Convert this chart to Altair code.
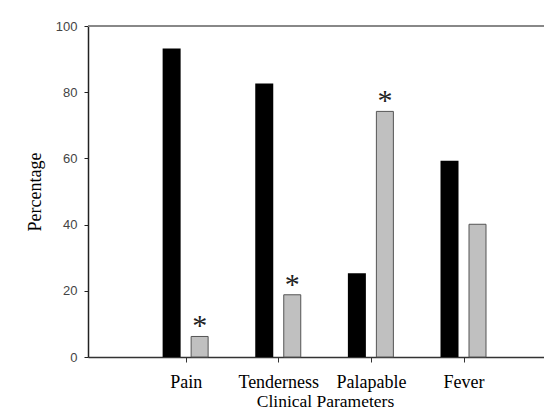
import altair as alt
import pandas as pd

categories = ["Pain", "Tenderness", "Palapable", "Fever"]
series_a = [93.2, 82.6, 25.3, 59.3]   # black bars
series_b = [6.2, 18.8, 74.2, 40.1]    # grey bars
significant = [True, True, True, False]
y_ticks = [0, 20, 40, 60, 80, 100]

df = pd.DataFrame({
    "cat": categories,
    "pos": list(range(1, len(categories) + 1)),
    "a": series_a,
    "b": series_b,
    "sig": significant,
})

label_expr = "[" + ",".join("'%s'" % c for c in categories) + "][datum.value - 1]"

xscale = alt.Scale(domain=[0, 4.815], nice=False, zero=False)
yscale = alt.Scale(domain=[0, 100], nice=False)

xaxis = alt.Axis(
    values=list(range(1, len(categories) + 1)), labelExpr=label_expr,
    title="Clinical Parameters", grid=False,
    domainColor="#333", domainWidth=1.5, tickColor="#333", tickSize=5,
    labelFont="Liberation Serif", labelFontSize=18, labelColor="black",
    labelBaseline="alphabetic", labelPadding=25,
    titleFont="Liberation Serif", titleFontSize=17.5, titleFontWeight="normal",
    titleColor="black", titleX=237, titleY=49, titleBaseline="alphabetic",
)
yaxis = alt.Axis(
    values=y_ticks, grid=False,
    domainColor="#222", domainWidth=1.5, tickColor="#222", tickSize=4,
    labelFont="Liberation Sans", labelFontSize=13, labelColor="#444", labelPadding=7,
    title="Percentage", titleFont="Liberation Serif", titleFontSize=18,
    titleFontWeight="normal", titleColor="black",
    titleX=-44, titleY=165.5, titleBaseline="bottom", titleAlign="center",
)

base = alt.Chart(df)

top_line = base.mark_rule(color="#888", strokeWidth=2).encode(
    y=alt.datum(100, scale=yscale)
)

black = base.mark_bar(color="black", width=18, xOffset=-14).encode(
    x=alt.X("pos:Q", scale=xscale, axis=xaxis),
    y=alt.Y("a:Q", scale=yscale, axis=yaxis),
)
grey = base.mark_bar(fill="#c0c0c0", stroke="#555", strokeWidth=1, width=17, xOffset=14).encode(
    x=alt.X("pos:Q", scale=xscale),
    y=alt.Y("b:Q", scale=yscale),
)
stars = base.transform_filter("datum.sig").mark_text(
    text="*", font="Liberation Serif", fontSize=30, xOffset=14,
    baseline="alphabetic", dy=-1, color="#222",
).encode(
    x=alt.X("pos:Q", scale=xscale),
    y=alt.Y("b:Q", scale=yscale),
)

chart = alt.layer(top_line, black, grey, stars).properties(
    width=456, height=331,
    padding={"left": 80, "top": 18, "right": 0, "bottom": 55},
    autosize=alt.AutoSizeParams(type="none"),
    background="white",
).configure_view(strokeWidth=0)

chart.save("out.html", embed_options={"renderer": "svg", "actions": False})
